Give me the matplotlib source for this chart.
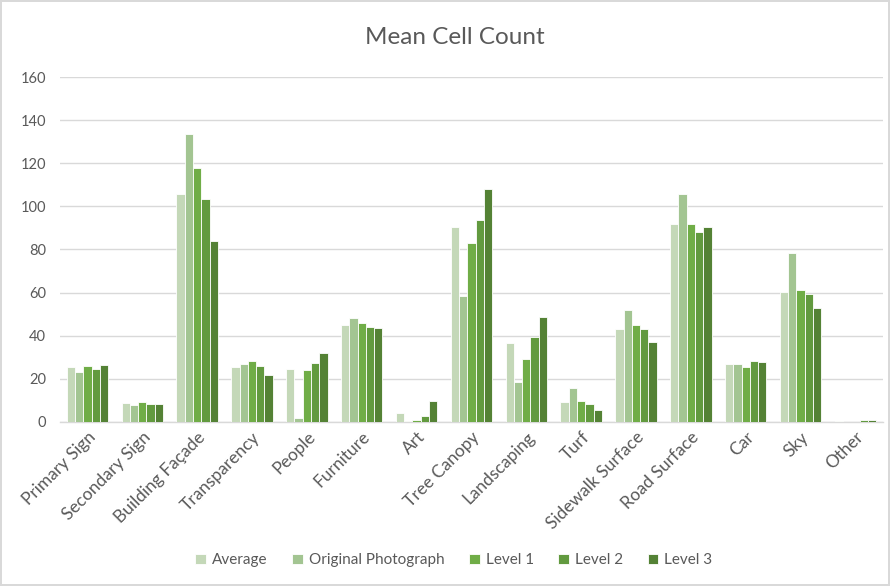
import matplotlib.pyplot as plt
import numpy as np

categories = ['Primary Sign', 'Secondary Sign', 'Building Façade', 'Transparency',
              'People', 'Furniture', 'Art', 'Tree Canopy', 'Landscaping', 'Turf',
              'Sidewalk Surface', 'Road Surface', 'Car', 'Sky', 'Other']

average = [25.3, 8.8, 105.9, 25.7, 24.4, 45.0, 4.0, 90.3, 36.4, 9.1, 43.0, 91.9, 27.1, 60.4, 0.3]
original = [23.1, 7.7, 133.5, 26.7, 1.7, 48.4, 0.6, 58.6, 18.5, 15.7, 51.8, 105.6, 26.8, 78.3, 0.1]
level1 = [25.9, 9.4, 117.6, 28.4, 24.0, 45.9, 0.8, 83.2, 29.0, 9.9, 45.0, 91.6, 25.4, 61.3, 0.2]
level2 = [24.4, 8.3, 103.6, 26.0, 27.4, 44.1, 2.8, 93.9, 39.5, 8.5, 43.0, 88.0, 28.5, 59.3, 0.8]
level3 = [26.5, 8.3, 84.0, 22.0, 31.8, 43.8, 9.9, 107.9, 48.7, 5.7, 37.1, 90.6, 27.7, 52.7, 0.8]

series = [('Average', average, '#C4D8B8'),
          ('Original Photograph', original, '#A3C592'),
          ('Level 1', level1, '#70AD47'),
          ('Level 2', level2, '#629A3F'),
          ('Level 3', level3, '#548235')]

plt.rcParams['font.family'] = ['Lato', 'DejaVu Sans']

fig = plt.figure(figsize=(8.9, 5.86), dpi=100)
fig.patch.set_edgecolor('#D9D9D9')
fig.patch.set_linewidth(1.5)
ax = fig.add_axes([0.0674, 0.2799, 0.9246, 0.5887])

x = np.arange(len(categories))
w = 0.151
for i, (name, vals, col) in enumerate(series):
    ax.bar(x + (i - 2) * w, vals, w, color=col, edgecolor='white', linewidth=0.6,
           label=name, zorder=3)

ax.set_xlim(-0.5, len(categories) - 0.5)
ax.set_ylim(0, 160)
ax.set_yticks(range(0, 161, 20))
ax.grid(axis='y', color='#D9D9D9', linewidth=1, zorder=0)
for s in ['top', 'right', 'left']:
    ax.spines[s].set_visible(False)
ax.spines['bottom'].set_color('#D9D9D9')
ax.spines['bottom'].set_linewidth(1)
ax.tick_params(axis='both', length=0, colors='#595959', labelsize=10.5)
ax.tick_params(axis='y', pad=10)
ax.set_xticks(x)
ax.set_xticklabels(categories, rotation=45, ha='right', rotation_mode='anchor',
                   fontsize=12.5)
ax.tick_params(axis='x', pad=5)

fig.text(0.511, 0.936, 'Mean Cell Count', ha='center', va='center',
         fontsize=17.5, color='#595959')

fig.legend(loc='center', bbox_to_anchor=(0.51, 0.044), ncol=5, frameon=False,
           fontsize=11, handlelength=0.7, handleheight=0.7, handletextpad=0.4,
           columnspacing=1.6, labelcolor='#595959')

fig.savefig('out.png', dpi=100)
